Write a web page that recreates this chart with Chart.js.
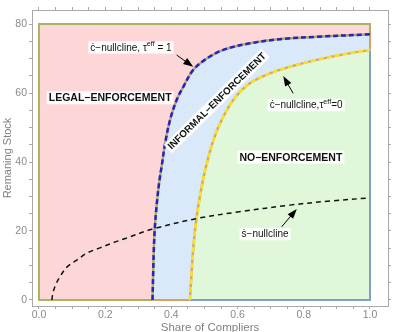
<!DOCTYPE html>
<html>
<head>
<meta charset="utf-8">
<script src="https://cdn.jsdelivr.net/npm/chart.js@4"></script>
<style>
  html, body { margin: 0; padding: 0; background: #fff; }
  #wrap { width: 394px; height: 332px; }
</style>
</head>
<body>
<div id="wrap"><canvas id="myChart" width="394" height="332"></canvas></div>
<script>
// c-nullcline with tau_eff = 1 (blue dashed)
const blueX = [0.343, 0.345, 0.347, 0.350, 0.356, 0.363, 0.371, 0.381, 0.396, 0.416, 0.436, 0.466, 0.507, 0.557, 0.637, 0.738, 0.839, 1.0];
const blueY = [0, 8, 15, 21, 28, 34, 39, 45.4, 52.2, 58.0, 61.8, 66.7, 70.0, 72.5, 74.4, 75.7, 76.3, 77.0];

// c-nullcline with tau_eff = 0 (yellow dashed)
const yellowX = [0.456, 0.461, 0.467, 0.476, 0.488, 0.503, 0.527, 0.552, 0.587, 0.637, 0.698, 0.758, 0.839, 0.919, 1.0];
const yellowY = [0, 8, 16, 23.8, 31, 38, 46.4, 52.2, 58.0, 62.8, 65.7, 67.6, 69.6, 71.2, 72.5];

// s-nullcline (black dashed)
const sX = [0.039, 0.042, 0.050, 0.063, 0.085, 0.115, 0.145, 0.184, 0.224, 0.266, 0.341, 0.476, 0.600, 0.758, 0.880, 1.0];
const sY = [0, 2.0, 4.3, 6.7, 9.6, 11.6, 13.6, 15.1, 16.6, 18.0, 20.5, 23.6, 25.5, 27.5, 28.7, 29.6];

// region box
const shareRange = [0, 1];
const stockTop = 80;

// axes
const xTicks = [0, 0.2, 0.4, 0.6, 0.8, 1.0];
const xTickLabels = ['0.0', '0.2', '0.4', '0.6', '0.8', '1.0'];
const yTicks = [0, 20, 40, 60, 80];
const yTickLabels = ['0', '20', '40', '60', '80'];

const pts = (xs, ys) => xs.map((v, i) => ({ x: v, y: ys[i] }));
const last = a => a[a.length - 1];

// minor ticks: 4 subdivisions between majors
function withMinor(major) {
    const out = [];
    for (let i = 0; i < major.length; i++) {
        out.push(major[i]);
        if (i < major.length - 1) {
            const step = (major[i + 1] - major[i]) / 4;
            for (let k = 1; k < 4; k++) out.push(+(major[i] + k * step).toFixed(4));
        }
    }
    return out;
}

const blueEnd = last(blueY);
const yellowEnd = last(yellowY);

// annotations (text boxes and arrows), placed in data units
const notes = [
    { parts: [['ċ−nullcline, τ', 0], ['eff', 1], [' = 1', 0]], x: 0.278, y: 73.2, size: 10 },
    { parts: [['LEGAL−ENFORCEMENT', 0]], x: 0.215, y: 58.6, size: 10.5, bold: true },
    { parts: [['INFORMAL−ENFORCEMENT', 0]], x: 0.537, y: 57.7, size: 9.8, bold: true, angle: -44.5 },
    { parts: [['ċ−nullcline,τ', 0], ['eff', 1], ['=0', 0]], x: 0.807, y: 56.5, size: 10 },
    { parts: [['NO−ENFORCEMENT', 0]], x: 0.761, y: 41.4, size: 10.5, bold: true },
    { parts: [['ṡ−nullcline', 0]], x: 0.683, y: 19.1, size: 10 }
];
const arrows = [
    { from: [0.416, 71.0], to: [0.466, 67.6] },
    { from: [0.768, 59.9], to: [0.738, 64.9] },
    { from: [0.733, 21.2], to: [0.779, 26.4] }
];

const fontFam = '"Liberation Sans", Arial, sans-serif';

const notesPlugin = {
    id: 'notes',
    afterDatasetsDraw(chart) {
        const ctx = chart.ctx;
        const sx = chart.scales.x, sy = chart.scales.y;
        ctx.save();

        // arrows
        arrows.forEach(a => {
            const x1 = sx.getPixelForValue(a.from[0]), y1 = sy.getPixelForValue(a.from[1]);
            const x2 = sx.getPixelForValue(a.to[0]), y2 = sy.getPixelForValue(a.to[1]);
            const ang = Math.atan2(y2 - y1, x2 - x1);
            const c = Math.cos(ang), s = Math.sin(ang);
            ctx.strokeStyle = '#000';
            ctx.fillStyle = '#000';
            ctx.lineWidth = 1;
            ctx.beginPath();
            ctx.moveTo(x1, y1);
            ctx.lineTo(x2 - 7 * c, y2 - 7 * s);
            ctx.stroke();
            ctx.beginPath();
            ctx.moveTo(x2, y2);
            ctx.lineTo(x2 - 10 * c + 3.6 * s, y2 - 10 * s - 3.6 * c);
            ctx.lineTo(x2 - 10 * c - 3.6 * s, y2 - 10 * s + 3.6 * c);
            ctx.closePath();
            ctx.fill();
        });

        // text boxes
        notes.forEach(n => {
            const px = sx.getPixelForValue(n.x), py = sy.getPixelForValue(n.y);
            const w = n.bold ? 'bold ' : '';
            const fontOf = sup => w + (sup ? n.size * 0.72 : n.size) + 'px ' + fontFam;
            let total = 0;
            n.parts.forEach(p => { ctx.font = fontOf(p[1]); total += ctx.measureText(p[0]).width; });
            ctx.save();
            ctx.translate(px, py);
            if (n.angle) ctx.rotate(n.angle * Math.PI / 180);
            ctx.fillStyle = 'rgba(255,255,255,0.92)';
            ctx.fillRect(-total / 2 - 2, -n.size * 0.62, total + 4, n.size * 1.24);
            ctx.fillStyle = '#111';
            ctx.textBaseline = 'middle';
            ctx.textAlign = 'left';
            let cx = -total / 2;
            n.parts.forEach(p => {
                ctx.font = fontOf(p[1]);
                ctx.fillText(p[0], cx, p[1] ? -n.size * 0.35 : 0.5);
                cx += ctx.measureText(p[0]).width;
            });
            ctx.restore();
        });
        ctx.restore();
    }
};

function fillSet(data, color, order) {
    return { data: data, fill: 'origin', backgroundColor: color, borderColor: 'transparent', borderWidth: 0, pointRadius: 0, tension: 0.35, order: order };
}
function lineSet(data, color, width, dash, order, tension) {
    return { data: data, fill: false, borderColor: color, borderWidth: width, borderDash: dash, pointRadius: 0, tension: tension || 0, order: order };
}

const chart = document.getElementById('myChart');
const frameColor = '#a9a9a9';
const tickColor = '#8a8a8a';

function xScale(pos, showLabels, h) {
    return {
        type: 'linear', position: pos, min: -0.0211, max: 1.0544,
        afterBuildTicks: s => { s.ticks = withMinor(xTicks).map(v => ({ value: v })); },
        afterFit: s => { s.height = h; },
        border: { display: true, color: frameColor, width: 1 },
        grid: { drawOnChartArea: false, drawTicks: true, tickLength: 3, color: frameColor },
        ticks: {
            display: showLabels, autoSkip: false, maxRotation: 0, padding: 0, color: tickColor,
            font: { size: 10.5 },
            callback: v => { const i = xTicks.indexOf(v); return i >= 0 ? xTickLabels[i] : ''; }
        },
        title: { display: showLabels, text: 'Share of Compliers', color: '#808080', font: { size: 11.5 }, padding: { top: 0, bottom: -3 } }
    };
}
function yScale(pos, showLabels, w) {
    return {
        type: 'linear', position: pos, min: -1.74, max: 84.06,
        afterBuildTicks: s => { s.ticks = withMinor(yTicks).map(v => ({ value: v })); },
        afterFit: s => { s.width = w; },
        border: { display: true, color: frameColor, width: 1 },
        grid: { drawOnChartArea: false, drawTicks: true, tickLength: 3, color: frameColor },
        ticks: {
            display: showLabels, autoSkip: false, padding: 2, color: tickColor,
            font: { size: 10.5 },
            callback: v => { const i = yTicks.indexOf(v); return i >= 0 ? yTickLabels[i] : ''; }
        },
        title: { display: showLabels, text: 'Remaning Stock', color: '#808080', font: { size: 11 }, padding: { top: 1, bottom: 0 } }
    };
}

Chart.defaults.font.family = fontFam;

const config = {
    type: 'line',
    data: {
        datasets: [
            // region fills
            fillSet(pts(shareRange, [stockTop, stockTop]), '#fdd7d7', 20),
            fillSet(pts(blueX, blueY), '#d9e9f9', 19),
            fillSet(pts(yellowX, yellowY), '#e0f7da', 18),
            // region edges
            lineSet(pts([blueX[0], shareRange[0], shareRange[0], shareRange[1], shareRange[1]], [0, 0, stockTop, stockTop, blueEnd]), '#a9b360', 2, [], 12),
            lineSet(pts([blueX[0], yellowX[0]], [0, 0]), '#d9a066', 2, [], 12),
            lineSet(pts([shareRange[1], shareRange[1]], [yellowEnd, blueEnd]), '#d9a066', 2, [], 12),
            lineSet(pts([yellowX[0], shareRange[1], shareRange[1]], [0, 0, yellowEnd]), '#7f9fc4', 2, [], 12),
            // nullclines
            lineSet(pts(blueX, blueY), '#b3a872', 2.5, [], 7, 0.35),
            lineSet(pts(blueX, blueY), '#2323c8', 2.5, [5, 3], 6, 0.35),
            lineSet(pts(yellowX, yellowY), '#d6a66e', 2.5, [], 7, 0.35),
            lineSet(pts(yellowX, yellowY), '#f8e61c', 2.5, [5, 3], 6, 0.35),
            lineSet(pts(sX, sY), '#111', 1.5, [5, 4], 1, 0.35)
        ]
    },
    options: {
        responsive: false,
        animation: false,
        layout: { padding: 0 },
        plugins: { legend: { display: false }, tooltip: { enabled: false } },
        scales: {
            x: xScale('bottom', true, 26),
            x2: xScale('top', false, 10),
            y: yScale('left', true, 32),
            y2: yScale('right', false, 6)
        }
    },
    plugins: [notesPlugin]
};

new Chart(chart, config);
</script>
</body>
</html>
